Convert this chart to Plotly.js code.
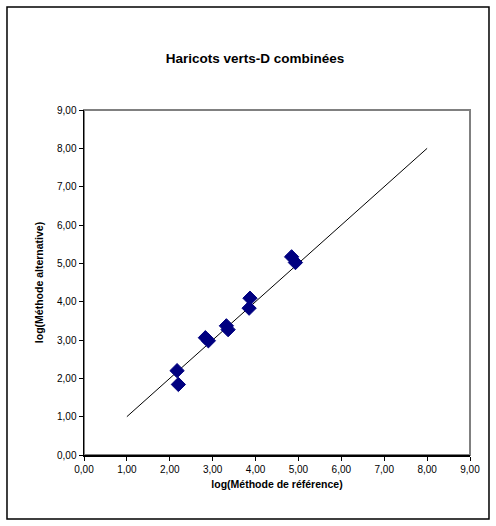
<!DOCTYPE html>
<html>
<head>
<meta charset="utf-8">
<script src="https://cdn.plot.ly/plotly-3.0.1.min.js"></script>
<style>
html,body{margin:0;padding:0;background:#fff;}
#chart{width:496px;height:526px;}
</style>
</head>
<body>
<div id="chart"></div>
<script>
const refX = [2.17, 2.20, 2.83, 2.90, 3.32, 3.36, 3.87, 3.85, 4.84, 4.93];
const altY = [2.20, 1.84, 3.06, 2.98, 3.37, 3.27, 4.09, 3.83, 5.17, 5.02];
const lineX = [1, 8];
const lineY = [1, 8];
const tickVals = [0, 1, 2, 3, 4, 5, 6, 7, 8, 9];

const font = 'Liberation Sans, Arial, sans-serif';

const traces = [
  {x: lineX, y: lineY, mode: 'lines', type: 'scatter',
   line: {color: '#000000', width: 1}, hoverinfo: 'skip'},
  {x: refX, y: altY, mode: 'markers', type: 'scatter',
   marker: {symbol: 'diamond', color: '#000080', size: 11,
            line: {color: '#000080', width: 1}}}
];

const layout = {
  width: 496, height: 526,
  margin: {l: 84, r: 26, t: 110, b: 71},
  paper_bgcolor: '#ffffff', plot_bgcolor: '#ffffff',
  showlegend: false,
  separators: ', ',
  font: {family: font, color: '#000000', size: 10},
  title: {text: '<b>Haricots verts-D combinées</b>', font: {family: font, size: 13.5, color: '#000'},
          x: 0.443, xanchor: 'center', y: 0.89, yanchor: 'middle', xref: 'paper', yref: 'container'},
  xaxis: {range: [0, 9], tickvals: tickVals, tickformat: '.2f', showgrid: false, zeroline: false,
          showline: true, linecolor: '#000', linewidth: 1.5, ticks: 'outside', ticklen: 4,
          tickcolor: '#000', tickfont: {size: 10, family: font},
          title: {text: '<b>log(Méthode de référence)</b>', font: {size: 10.5, family: font}, standoff: 7}},
  yaxis: {range: [0, 9], tickvals: tickVals, tickformat: '.2f', showgrid: false, zeroline: false,
          showline: true, linecolor: '#000', linewidth: 1.5, ticks: 'outside', ticklen: 4,
          tickcolor: '#000', tickfont: {size: 10, family: font},
          title: {text: '<b>log(Méthode alternative)</b>', font: {size: 10.5, family: font}, standoff: 11}},
  shapes: [
    {type: 'rect', xref: 'paper', yref: 'paper', x0: 0, x1: 1, y0: 0, y1: 1,
     line: {color: '#808080', width: 2}, layer: 'below'},
    {type: 'rect', xref: 'paper', yref: 'paper', x0: -0.1995, x1: 1.0492, y0: -0.1855, y1: 1.2986,
     line: {color: '#000000', width: 1.5}, layer: 'below'}
  ]
};

Plotly.newPlot('chart', traces, layout, {staticPlot: true});
</script>
</body>
</html>
